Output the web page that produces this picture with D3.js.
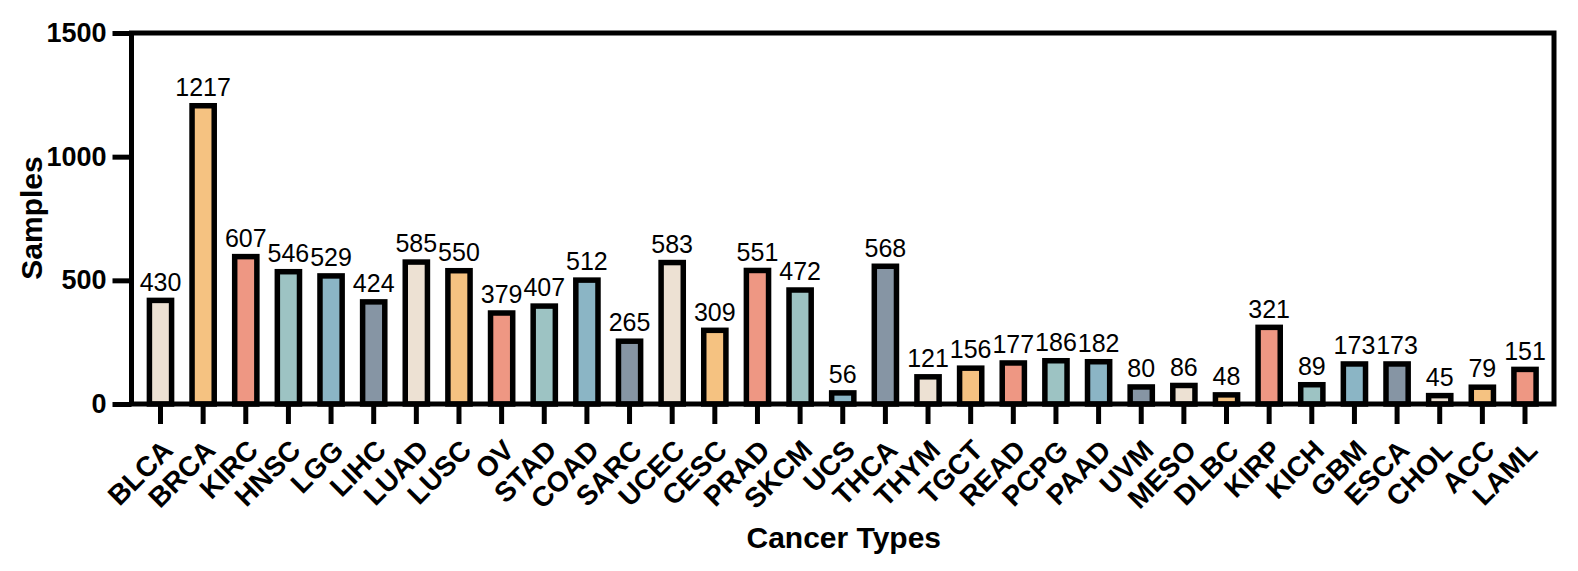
<!DOCTYPE html>
<html lang="en">
<head>
    <meta charset="UTF-8">
    <title>Samples per cancer type</title>
    <script src="https://d3js.org/d3.v7.min.js"></script>
    <style>
        body { margin: 0; background: #fff; }
        text { font-family: "Liberation Sans", Arial, Helvetica, sans-serif; }
    </style>
</head>
<body>
<svg width="1578" height="571"></svg>
<script>
    var cancerTypes = ["BLCA", "BRCA", "KIRC", "HNSC", "LGG", "LIHC", "LUAD", "LUSC", "OV", "STAD",
        "COAD", "SARC", "UCEC", "CESC", "PRAD", "SKCM", "UCS", "THCA", "THYM", "TGCT", "READ",
        "PCPG", "PAAD", "UVM", "MESO", "DLBC", "KIRP", "KICH", "GBM", "ESCA", "CHOL", "ACC", "LAML"];
    var samples = [430, 1217, 607, 546, 529, 424, 585, 550, 379, 407,
        512, 265, 583, 309, 551, 472, 56, 568, 121, 156, 177,
        186, 182, 80, 86, 48, 321, 89, 173, 173, 45, 79, 151];
    var yTicks = [0, 500, 1000, 1500];
    var palette = ["#ede1d3", "#f5c281", "#ee9783", "#9dc3c3", "#8bb5c5", "#8695a4"];

    var svg = d3.select("svg");
    // plot frame (named to avoid clashing with window.top)
    var plotLeft = 131.5, plotRight = 1554, plotTop = 33, plotBottom = 404;

    var x = d3.scaleBand()
        .domain(cancerTypes)
        .range([plotLeft, plotRight])
        .paddingInner(0.48)
        .paddingOuter(0.42);
    var y = d3.scaleLinear()
        .domain([0, 1500])
        .range([plotBottom, plotTop]);

    var data = cancerTypes.map(function (c, i) {
        return {type: c, value: samples[i], color: palette[i % palette.length]};
    });

    // bars
    svg.selectAll(".bar")
        .data(data)
        .enter()
        .append("rect")
        .attr("class", "bar")
        .attr("x", function (d) { return x(d.type); })
        .attr("y", function (d) { return y(d.value) + 2.75; })
        .attr("width", x.bandwidth())
        .attr("height", function (d) { return plotBottom - y(d.value) - 2.75; })
        .attr("fill", function (d) { return d.color; })
        .attr("stroke", "#000")
        .attr("stroke-width", 5.5);

    // value labels
    svg.selectAll(".val")
        .data(data)
        .enter()
        .append("text")
        .attr("class", "val")
        .attr("x", function (d) { return x(d.type) + x.bandwidth() / 2; })
        .attr("y", function (d) { return y(d.value) - 7; })
        .attr("text-anchor", "middle")
        .attr("font-size", 25)
        .attr("fill", "#000")
        .text(function (d) { return d.value; });

    // frame
    svg.append("rect")
        .attr("x", plotLeft)
        .attr("y", plotTop)
        .attr("width", plotRight - plotLeft)
        .attr("height", plotBottom - plotTop)
        .attr("fill", "none")
        .attr("stroke", "#000")
        .attr("stroke-width", 5);

    // y axis
    var yAxis = svg.append("g")
        .attr("transform", "translate(" + plotLeft + ",0)")
        .call(d3.axisLeft(y).tickValues(yTicks).tickFormat(d3.format("d")).tickSize(19).tickPadding(6));
    yAxis.select(".domain").remove();
    yAxis.selectAll(".tick line").attr("stroke-width", 5);
    yAxis.selectAll(".tick text")
        .attr("font-size", 27)
        .attr("font-weight", "bold")
        .attr("font-family", "Liberation Sans, Arial, sans-serif")
        .attr("fill", "#000");

    // x axis
    var xAxis = svg.append("g")
        .attr("transform", "translate(0," + plotBottom + ")")
        .call(d3.axisBottom(x).tickSize(20).tickSizeOuter(0));
    xAxis.select(".domain").remove();
    xAxis.selectAll(".tick line").attr("stroke-width", 5);
    xAxis.selectAll(".tick text")
        .attr("font-size", 28)
        .attr("font-weight", "bold")
        .attr("font-family", "Liberation Sans, Arial, sans-serif")
        .attr("fill", "#000")
        .attr("text-anchor", "end")
        .attr("dy", null)
        .attr("y", null)
        .attr("transform", "translate(14,48) rotate(-45)");

    // axis titles
    svg.append("text")
        .attr("x", (plotLeft + plotRight) / 2 + 1)
        .attr("y", 548)
        .attr("text-anchor", "middle")
        .attr("font-size", 30)
        .attr("font-weight", "bold")
        .text("Cancer Types");

    svg.append("text")
        .attr("transform", "translate(42,218) rotate(-90)")
        .attr("text-anchor", "middle")
        .attr("font-size", 30)
        .attr("font-weight", "bold")
        .text("Samples");
</script>
</body>
</html>
